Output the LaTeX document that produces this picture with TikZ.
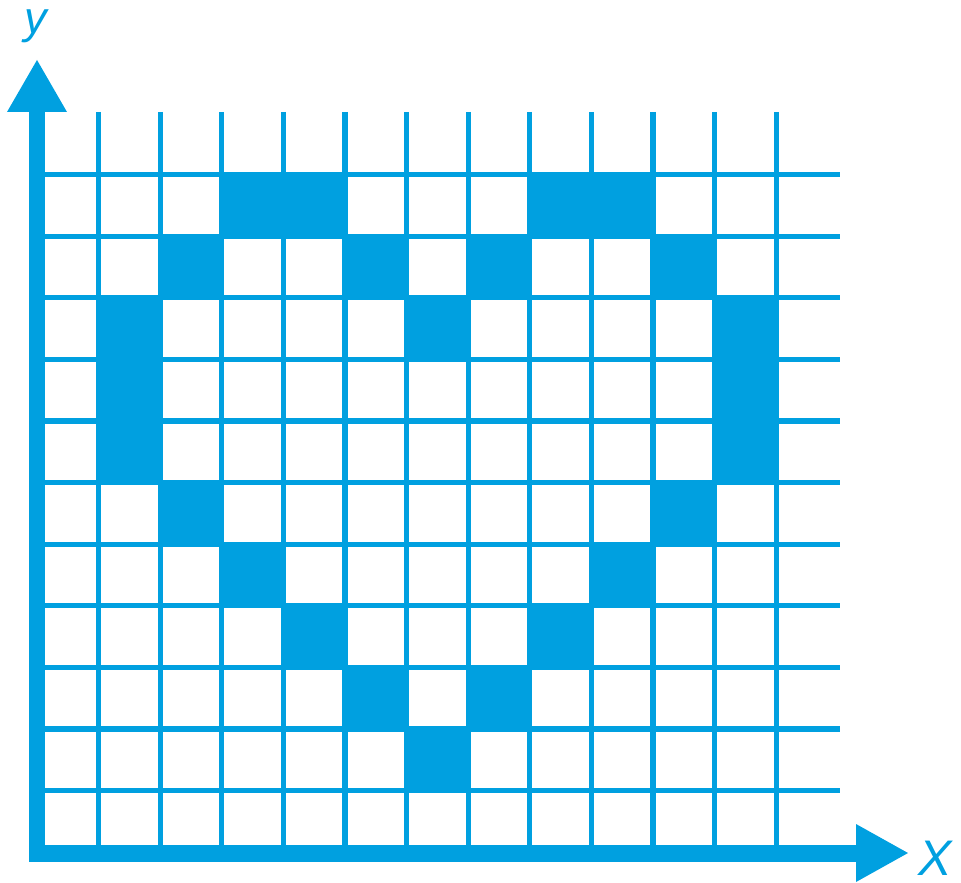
\documentclass[tikz,border=0pt]{standalone}
\usepackage{fontspec}
\setmainfont{Liberation Sans}
\definecolor{gridblue}{RGB}{0,160,224}
\begin{document}
\begin{tikzpicture}[x=0.5pt,y=-0.5pt,
  gridline/.style={draw=gridblue,line width=2.6pt},
  cellfill/.style={fill=gridblue},
  axisbar/.style={fill=gridblue},
  axistip/.style={fill=gridblue},
  axislabel/.style={text=gridblue,inner sep=0pt}]
\useasboundingbox (0,0) rectangle (961,882);
% filled cells (heart)
\foreach \c/\r in {3/0,4/0,8/0,9/0, 2/1,5/1,7/1,10/1, 1/2,6/2,11/2, 1/3,11/3, 1/4,11/4, 2/5,10/5, 3/6,9/6, 4/7,8/7, 5/8,7/8, 6/9}
  \fill[cellfill] ({98.5+(\c-1)*61.6},{174.5+\r*61.6}) rectangle ++(61.6,61.6);
% grid lines
\foreach \i in {0,...,11}
  \draw[gridline] ({98.5+\i*61.6},112) -- ({98.5+\i*61.6},853);
\foreach \j in {0,...,10}
  \draw[gridline] (37,{174.5+\j*61.6}) -- (840,{174.5+\j*61.6});
% axes
\fill[axisbar] (29,112) rectangle (45,862);
\fill[axisbar] (29,845) rectangle (857,862);
\fill[axistip] (7,112) -- (67,112) -- (37,60) -- cycle;
\fill[axistip] (856,824) -- (856,882) -- (908,853) -- cycle;
% labels
\node[axislabel,anchor=base,font=\itshape\fontsize{22.5}{22.5}\selectfont] (ylab) at (36,33.5) {y};
\node[axislabel,anchor=base west,font=\itshape\fontsize{25}{25}\selectfont] (xlab) at (918,875) {X};
\end{tikzpicture}
\end{document}
